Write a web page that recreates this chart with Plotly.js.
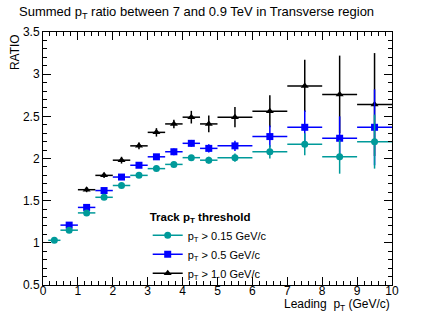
<!DOCTYPE html>
<html>
<head>
<meta charset="utf-8">
<script src="https://cdn.plot.ly/plotly-3.0.1.min.js"></script>
<style>html,body{margin:0;padding:0;background:#fff;}#chart{width:436px;height:316px;}</style>
</head>
<body>
<div id="chart"></div>
<script>
// Data
const cyanX = [0.325, 0.75, 1.25, 1.75, 2.25, 2.75, 3.25, 3.75, 4.25, 4.75, 5.5, 6.5, 7.5, 8.5, 9.5];
const cyanXErr = [0.175, 0.25, 0.25, 0.25, 0.25, 0.25, 0.25, 0.25, 0.25, 0.25, 0.5, 0.5, 0.5, 0.5, 0.5];
const cyanY = [1.03, 1.15, 1.355, 1.54, 1.68, 1.80, 1.88, 1.93, 2.01, 1.98, 2.01, 2.08, 2.17, 2.02, 2.20];
const cyanYErr = [0.02, 0.02, 0.02, 0.02, 0.02, 0.02, 0.02, 0.03, 0.03, 0.04, 0.05, 0.08, 0.13, 0.2, 0.32];

const blueX = [0.75, 1.25, 1.75, 2.25, 2.75, 3.25, 3.75, 4.25, 4.75, 5.5, 6.5, 7.5, 8.5, 9.5];
const blueXErr = [0.25, 0.25, 0.25, 0.25, 0.25, 0.25, 0.25, 0.25, 0.25, 0.5, 0.5, 0.5, 0.5, 0.5];
const blueY = [1.21, 1.42, 1.62, 1.78, 1.92, 2.02, 2.08, 2.18, 2.12, 2.15, 2.26, 2.37, 2.24, 2.37];
const blueYErr = [0.03, 0.03, 0.03, 0.03, 0.03, 0.03, 0.04, 0.04, 0.05, 0.06, 0.13, 0.2, 0.26, 0.45];

const blackX = [1.25, 1.75, 2.25, 2.75, 3.25, 3.75, 4.25, 4.75, 5.5, 6.5, 7.5, 8.5, 9.5];
const blackXErr = [0.25, 0.25, 0.25, 0.25, 0.25, 0.25, 0.25, 0.25, 0.5, 0.5, 0.5, 0.5, 0.5];
const blackY = [1.63, 1.80, 1.98, 2.15, 2.31, 2.41, 2.49, 2.41, 2.49, 2.56, 2.86, 2.76, 2.64];
const blackYErr = [0.03, 0.03, 0.04, 0.04, 0.05, 0.05, 0.075, 0.1, 0.12, 0.19, 0.31, 0.46, 0.61];

const seriesNames = ["p<sub>T</sub> > 0.15 GeV/c", "p<sub>T</sub> > 0.5 GeV/c", "p<sub>T</sub> > 1.0 GeV/c"];

const CYAN = "#009a9a", BLUE = "#0000ff", BLACK = "#000000";
const FONT = "Liberation Sans, Arial, sans-serif";

function series(x, xe, y, ye, color, symbol, size) {
  return {
    type: "scatter", mode: "markers", x: x, y: y, showlegend: false,
    marker: {color: color, symbol: symbol, size: size},
    error_x: {type: "data", array: xe, visible: true, color: color, thickness: 1.5, width: 0},
    error_y: {type: "data", array: ye, visible: true, color: color, thickness: 1.5, width: 0},
    hoverinfo: "x+y"
  };
}
function legendItem(name, color, symbol, size) {
  return {
    type: "scatter", mode: "lines+markers", x: [null], y: [null], name: name,
    line: {color: color, width: 1.5}, marker: {color: color, symbol: symbol, size: size},
    showlegend: true
  };
}

const data = [
  series(blackX, blackXErr, blackY, blackYErr, BLACK, "triangle-up", 7),
  series(blueX, blueXErr, blueY, blueYErr, BLUE, "square", 7),
  series(cyanX, cyanXErr, cyanY, cyanYErr, CYAN, "circle", 7),
  legendItem(seriesNames[0], CYAN, "circle", 7),
  legendItem(seriesNames[1], BLUE, "square", 7),
  legendItem(seriesNames[2], BLACK, "triangle-up", 7)
];

const axisCommon = {
  showline: true, linecolor: "#000", linewidth: 1, mirror: "ticks",
  ticks: "inside", ticklen: 8, tickcolor: "#000", tickwidth: 1,
  showgrid: false, zeroline: false,
  tickfont: {family: FONT, size: 12, color: "#000"},
  minor: {ticks: "inside", ticklen: 4, tickcolor: "#000", showgrid: false}
};

const layout = {
  width: 436, height: 316,
  margin: {l: 43, r: 44, t: 32, b: 31, pad: 0},
  paper_bgcolor: "#fff", plot_bgcolor: "#fff",
  font: {family: FONT, size: 12, color: "#000"},
  xaxis: Object.assign({}, axisCommon, {range: [0, 10], dtick: 1, tick0: 0, ticklabelstandoff: -5,
          minor: Object.assign({}, axisCommon.minor, {dtick: 0.2})}),
  yaxis: Object.assign({}, axisCommon, {range: [0.5, 3.5], dtick: 0.5, tick0: 0.5,
          minor: Object.assign({}, axisCommon.minor, {dtick: 0.1})}),
  legend: {x: 0.3, y: 0.313, xanchor: "left", yanchor: "top", bgcolor: "rgba(0,0,0,0)",
           borderwidth: 0, font: {size: 11}, itemwidth: 30, tracegroupgap: 0,
           title: {text: "<b>Track p<sub>T</sub> threshold</b>", font: {size: 11.5}}},
  annotations: [
    {text: "Summed p<sub>T</sub> ratio between 7 and 0.9 TeV in Transverse region",
     xref: "paper", yref: "paper", x: (17 - 43) / 349, y: 1 + (32 - 12) / 253,
     xanchor: "left", yanchor: "middle", showarrow: false,
     font: {family: FONT, size: 13, color: "#000"}},
    {text: "RATIO", xref: "paper", yref: "paper", x: -0.08, y: 1.0, xanchor: "center", yanchor: "top",
     textangle: -90, showarrow: false, font: {size: 12}},
    {text: "Leading  p<sub>T</sub> (GeV/c)", xref: "paper", yref: "paper", x: 1.0, y: -0.04,
     xanchor: "right", yanchor: "top", showarrow: false, font: {size: 12}}
  ]
};

Plotly.newPlot("chart", data, layout, {staticPlot: true, displayModeBar: false});
</script>
</body>
</html>
